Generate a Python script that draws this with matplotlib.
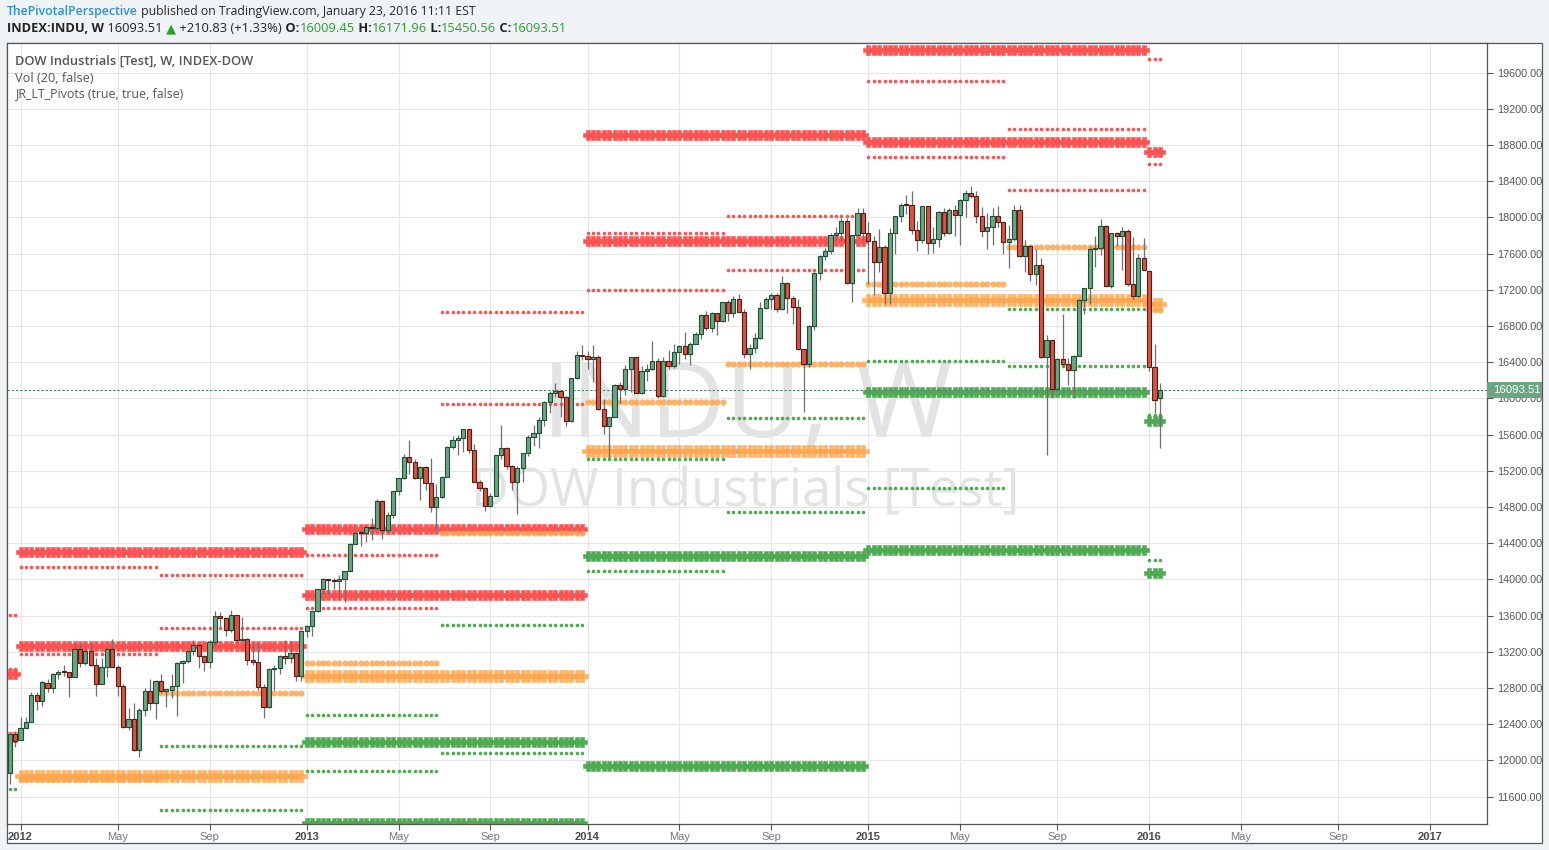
import matplotlib
matplotlib.use("Agg")
import matplotlib.pyplot as plt
from matplotlib.patches import Rectangle
import numpy as np
import pandas as pd

W, H, DPI = 1549, 850, 100
plt.rcParams['font.family'] = ['Liberation Sans', 'DejaVu Sans']

# ---------------- data (weekly bars, first bar = week of 2011-12-19) ----------------
first_week = "2011-12-19"

opens = [
    11866, 12291,
    12221, 12360, 12422, 12720, 12657, 12860, 12800, 12950, 12982, 12977, 12922, 13233, 13080,
    13212, 13059, 12850, 13029, 13228, 13035, 12820, 12370, 12455, 12118, 12553, 12767, 12640,
    12880, 12772, 12777, 12822, 13073, 13096, 13207, 13274, 13157, 13090, 13306, 13593, 13579,
    13437, 13610, 13328, 13343, 13107, 13093, 12815, 12589, 13009, 13026, 13155, 13135, 13190,
    12938, 13435, 13488, 13650, 13896, 14009, 13993, 13982, 14001, 14090, 14397, 14515, 14512,
    14579, 14565, 14865, 14547, 14712, 14974, 15118, 15354, 15303, 15116, 15248, 15070, 14800,
    14910, 15136, 15464, 15543, 15559, 15659, 15426, 15081, 15010, 14810, 14922, 15376, 15452,
    15258, 15073, 15237, 15400, 15570, 15615, 15762, 15962, 16065, 16086, 16020, 15755, 16221,
    16479, 16470, 16437, 16459, 15879, 15699, 15794, 16154, 16104, 16322, 16453, 16066, 16303,
    16324, 16413, 16027, 16409, 16361, 16513, 16583, 16492, 16606, 16717, 16924, 16776, 16948,
    16852, 17068, 16944, 17100, 16961, 16493, 16554, 16663, 17001, 17098, 17138, 16988, 17280,
    17113, 17010, 16544, 16380, 16805, 17391, 17574, 17635, 17810, 17828, 17959, 17281, 17804,
    18054, 17833, 17737, 17512, 17673, 17165, 17825, 18019, 18141, 18133, 17857, 17750, 18128,
    17713, 17763, 18058, 17827, 18080, 18025, 18191, 18272, 18232, 18011, 17849, 17899, 18016,
    17947, 17730, 17760, 18086, 17569, 17690, 17373, 17477, 16460, 16643, 16102, 16433, 16385,
    16315, 16472, 17084, 17216, 17647, 17664, 17910, 17245, 17824, 17798, 17848, 17265, 17128,
    17553,
    17405, 16347, 16009]

highs = [
    12317, 12329,
    12479, 12484, 12754, 12760, 12880, 12905, 12968, 13005, 13055, 12980, 13300, 13290, 13290,
    13297, 13130, 13130, 13250, 13338, 13050, 12840, 12580, 12640, 12580, 12800, 12900, 12890,
    12950, 12790, 12960, 13090, 13110, 13220, 13330, 13290, 13170, 13330, 13653, 13640, 13590,
    13661, 13610, 13590, 13350, 13290, 13290, 12840, 13020, 13060, 13170, 13330, 13315, 13200,
    13436, 13500, 13650, 13900, 14020, 14010, 14020, 14050, 14090, 14400, 14540, 14550, 14585,
    14680, 14890, 14880, 14750, 14980, 15120, 15390, 15542, 15330, 15250, 15250, 15340, 15050,
    15140, 15470, 15580, 15600, 15660, 15660, 15500, 15100, 15020, 14960, 15380, 15710, 15460,
    15260, 15250, 15400, 15600, 15710, 15800, 15970, 16080, 16175, 16090, 16030, 16230, 16530,
    16590, 16530, 16590, 16480, 15990, 15800, 16160, 16180, 16370, 16460, 16460, 16360, 16380,
    16630, 16450, 16460, 16540, 16600, 16590, 16740, 16620, 16740, 16930, 16970, 16960, 16950,
    17070, 17090, 17130, 17150, 16990, 16600, 16720, 17070, 17120, 17160, 17160, 17350, 17290,
    17130, 17100, 16550, 16810, 17400, 17580, 17660, 17830, 17900, 17990, 17990, 17810, 18103,
    18100, 17950, 17800, 17870, 17700, 17880, 18020, 18160, 18250, 18290, 17960, 18130, 18130,
    17900, 18070, 18100, 18100, 18140, 18200, 18300, 18351, 18290, 18120, 18050, 18110, 18130,
    17950, 17920, 18140, 18140, 17750, 17700, 17650, 17550, 16700, 16650, 16450, 16930, 16450,
    16480, 17100, 17220, 17680, 17800, 17980, 17920, 17830, 17840, 17900, 17870, 17780, 17600,
    17770,
    17405, 16600, 16172]

lows = [
    11735, 12152,
    12221, 12359, 12422, 12560, 12600, 12760, 12743, 12900, 12930, 12706, 12922, 13030, 13060,
    13040, 12710, 12850, 12920, 13030, 12710, 12360, 12340, 12100, 12035, 12490, 12560, 12460,
    12750, 12590, 12690, 12490, 12860, 13080, 13160, 13020, 12990, 13020, 13260, 13480, 13370,
    13420, 13290, 13320, 13060, 13050, 12780, 12471, 12580, 12780, 12960, 13070, 13080, 12880,
    12880, 13360, 13380, 13640, 13840, 13840, 13900, 13780, 13750, 14090, 14390, 14370, 14410,
    14440, 14560, 14450, 14530, 14680, 14930, 15110, 15160, 15110, 14880, 14990, 14750, 14550,
    14900, 15130, 15440, 15370, 15410, 15400, 15080, 14980, 14760, 14800, 14920, 15330, 15220,
    14990, 14719, 15080, 15360, 15480, 15450, 15700, 15840, 16020, 15800, 15700, 15740, 16220,
    16430, 16330, 16180, 15870, 15610, 15340, 15790, 15950, 16040, 16070, 16060, 16050, 16190,
    16320, 16000, 16020, 16330, 16340, 16380, 16440, 16370, 16600, 16660, 16760, 16730, 16700,
    16850, 16860, 16900, 16960, 16450, 16330, 16500, 16660, 16990, 16990, 16960, 16980, 16940,
    16820, 16540, 15855, 16350, 16760, 17310, 17530, 17600, 17760, 17740, 17270, 17070, 17800,
    17740, 17260, 17140, 17400, 17040, 17040, 17600, 17950, 18040, 17820, 17630, 17720, 17600,
    17610, 17670, 17800, 17820, 17790, 17700, 18010, 18210, 17940, 17780, 17650, 17700, 17890,
    17600, 17440, 17740, 17560, 17400, 17300, 17250, 16450, 15370, 16000, 16080, 16350, 16150,
    16000, 16470, 16930, 17040, 17450, 17580, 17240, 17220, 17680, 17420, 17240, 17100, 17120,
    17420,
    16300, 15840, 15451]

closes = [
    12294, 12217,
    12360, 12422, 12720, 12660, 12862, 12801, 12950, 12983, 12978, 12922, 13233, 13081, 13212,
    13060, 12850, 13029, 13228, 13038, 12821, 12369, 12455, 12119, 12554, 12767, 12640, 12880,
    12772, 12777, 12822, 13075, 13096, 13207, 13275, 13157, 13090, 13306, 13593, 13579, 13437,
    13610, 13328, 13343, 13107, 13093, 12815, 12588, 13010, 13026, 13155, 13135, 13190, 12938,
    13435, 13488, 13650, 13896, 14009, 13993, 13982, 14001, 14090, 14397, 14515, 14512, 14579,
    14565, 14865, 14547, 14712, 14974, 15118, 15354, 15303, 15116, 15248, 15070, 14800, 14910,
    15136, 15464, 15543, 15559, 15659, 15426, 15081, 15010, 14810, 14922, 15376, 15452, 15258,
    15073, 15237, 15400, 15570, 15615, 15762, 15962, 16065, 16086, 16020, 15755, 16221, 16479,
    16470, 16437, 16459, 15879, 15699, 15794, 16154, 16104, 16322, 16453, 16066, 16303, 16324,
    16413, 16027, 16409, 16361, 16513, 16583, 16492, 16606, 16717, 16924, 16776, 16948, 16852,
    17068, 16944, 17100, 16961, 16493, 16554, 16663, 17001, 17098, 17138, 16988, 17280, 17113,
    17010, 16544, 16380, 16805, 17391, 17574, 17635, 17810, 17828, 17959, 17281, 17804, 18054,
    17833, 17737, 17512, 17673, 17165, 17825, 18019, 18141, 18133, 17857, 17750, 18128, 17713,
    17763, 18058, 17827, 18080, 18025, 18191, 18272, 18232, 18011, 17849, 17899, 18016, 17947,
    17730, 17760, 18086, 17569, 17690, 17373, 17477, 16460, 16643, 16102, 16433, 16385, 16315,
    16472, 17084, 17216, 17647, 17664, 17910, 17245, 17824, 17798, 17848, 17265, 17128, 17553,
    17425,
    16347, 15988, 16094]

last_price = 16093.51

# yearly pivots (crosses): year, R2, R1, P, S1, S2 (None = off chart)
pivot_years = [2011, 2012, 2013, 2014, 2015, 2016]
yearly_r2 = [12950, 14304, 14559, 18907, 19852, None]
yearly_r1 = [12264, 13260, 13831, 17742, 18838, 18728]
yearly_p = [None, 11832, 12933, 15423, 17089, 17049]
yearly_s1 = [None, None, 12205, 14258, 16075, 15747]
yearly_s2 = [None, None, 11307, 11939, 14326, 14068]

# half-year pivots (dots)
pivot_halves = ["2011H2", "2012H1", "2012H2", "2013H1", "2013H2",
                "2014H1", "2014H2", "2015H1", "2015H2", "2016H1"]
half_r2 = [13603, 14140, 14054, 14269, 16957, 17830, 18019, 19508, 18983, 19746]
half_r1 = [13009, 13178, 13467, 13687, 15934, 17203, 17422, 18665, 18301, 18586]
half_p = [12282, 11791, 12751, 13079, 14519, 15961, 16381, 17260, 17669, 16978]
half_s1 = [11688, None, 12164, 12497, 13496, 15334, 15784, 16417, 16987, 15818]
half_s2 = [None, None, 11448, 11889, 12081, 14092, 14743, 15012, 16355, 14210]

price_ticks = [11600, 12000, 12400, 12800, 13200, 13600, 14000, 14400, 14800, 15200,
               15600, 16000, 16400, 16800, 17200, 17600, 18000, 18400, 18800, 19200, 19600]
date_tick_dates = ["2012-01-02", "2012-05-07", "2012-09-03", "2013-01-07", "2013-05-06",
                   "2013-09-02", "2014-01-06", "2014-05-05", "2014-09-01", "2015-01-05",
                   "2015-05-04", "2015-09-07", "2016-01-04", "2016-05-02", "2016-09-05",
                   "2017-01-02"]
date_tick_labels = ["2012", "May", "Sep", "2013", "May", "Sep", "2014", "May", "Sep",
                    "2015", "May", "Sep", "2016", "May", "Sep", "2017"]

# ---------------- figure ----------------
n = len(closes)
assert len(opens) == n and len(highs) == n and len(lows) == n, (len(opens), len(highs), len(lows), n)
o = np.array(opens, float); h = np.array(highs, float)
l = np.array(lows, float); c = np.array(closes, float)
idx = np.arange(n)
dates = pd.date_range(first_week, periods=n, freq="7D")
bar_year = np.array(dates.year)
bar_half = np.array([f"{d.year}H{1 if d.month <= 6 else 2}" for d in dates])

fig = plt.figure(figsize=(W / DPI, H / DPI), dpi=DPI)
fig.patch.set_facecolor('#f0f3f6')
fig.add_artist(Rectangle((7 / W, 1 - 843 / H), (1542 - 7) / W, (843 - 43) / H,
                         transform=fig.transFigure, facecolor='white',
                         edgecolor='#555555', lw=0.9, zorder=-1))
ax = fig.add_axes([7 / W, 1 - 824 / H, (1487 - 7) / W, (824 - 43) / H])
ax.set_facecolor('white')
ax.set_xlim(-0.5, 273.57)
ax.set_ylim(11298, 19928)
for sp in ax.spines.values():
    sp.set_color('#555555'); sp.set_linewidth(0.9)

ax.set_axisbelow(True)
ax.grid(True, color='#e6e6e6', lw=0.8)

# watermark
wm1 = ax.text(0.5, 0.5, "INDU, W", family='Open Sans', color='#e3e3e3', fontsize=70,
              ha='center', va='baseline', zorder=0.2)
wm2 = ax.text(0.5, 0.5, "DOW Industrials [Test]", family='Open Sans', color='#e3e3e3',
              fontsize=35, ha='center', va='baseline', zorder=0.2)

RED, GREEN, ORANGE = '#ff5252', '#4fab52', '#ffa64d'

# yearly pivots
for k, yr in enumerate(pivot_years):
    xs = idx[bar_year == yr]
    for vals, col, ms, a in ((yearly_r2, RED, 6.6, 1.0), (yearly_r1, RED, 6.6, 1.0),
                             (yearly_p, ORANGE, 8.0, 0.85),
                             (yearly_s1, GREEN, 6.6, 1.0), (yearly_s2, GREEN, 6.6, 1.0)):
        v = vals[k]
        if v is None or len(xs) == 0:
            continue
        ax.plot(xs, np.full(len(xs), v), ls='none', marker='P', ms=ms, color=col,
                mec=col, mew=0.4, alpha=a, zorder=2)

# half-year pivots
for k, hf in enumerate(pivot_halves):
    xs = idx[bar_half == hf]
    for vals, col, ms, a in ((half_r2, RED, 2.6, 1.0), (half_r1, RED, 2.6, 1.0),
                             (half_p, ORANGE, 4.4, 0.85),
                             (half_s1, GREEN, 2.6, 1.0), (half_s2, GREEN, 2.6, 1.0)):
        v = vals[k]
        if v is None or len(xs) == 0:
            continue
        ax.plot(xs, np.full(len(xs), v), ls='none', marker='o', ms=ms, color=col,
                mec='none', alpha=a, zorder=2.1)

# last price line
ax.axhline(last_price, color='#4f8a6c', lw=0.8, ls=(0, (2.2, 1.6)), zorder=2.5)

# candles
up = c >= o
ax.vlines(idx, np.minimum(l, np.minimum(o, c)), np.maximum(h, np.maximum(o, c)),
          color='#6f6f6f', lw=0.9, zorder=3)
bot = np.minimum(o, c)
hgt = np.maximum(np.abs(c - o), 14)
ax.bar(idx[up], hgt[up], bottom=bot[up], width=0.8, color='#6ba583',
       edgecolor='#1f4f33', lw=0.8, zorder=4)
ax.bar(idx[~up], hgt[~up], bottom=bot[~up], width=0.8, color='#d75442',
       edgecolor='#5b1a13', lw=0.8, zorder=4)

# axes ticks
ax.yaxis.tick_right()
ax.set_yticks(price_ticks)
ax.set_yticklabels([f"{v:.2f}" for v in price_ticks])
ax.tick_params(axis='y', length=4, width=0.8, color='#555555', labelcolor='#555555',
               labelsize=7.8, pad=3)
t0 = pd.Timestamp(first_week)
xt = [(pd.Timestamp(d) - t0).days / 7.0 for d in date_tick_dates]
ax.set_xticks(xt)
ax.set_xticklabels(date_tick_labels)
ax.tick_params(axis='x', length=4, width=0.8, color='#555555', labelsize=8, pad=1.5)
for lab in ax.get_xticklabels():
    if lab.get_text().isdigit():
        lab.set_fontweight('bold'); lab.set_color('#4a4a4a')
    else:
        lab.set_color('#777777')

fig.canvas.draw()
R = fig.canvas.get_renderer()


def fit_runs(runs, x0, x1, yc, base=9.0):
    ts = []
    for s, col, wt, fam in runs:
        t = fig.text(0, 1 - yc / H, s, color=col, fontweight=wt, fontsize=base,
                     family=fam, va='center', ha='left')
        ts.append(t)
    tot = sum(t.get_window_extent(R).width for t in ts)
    k = (x1 - x0) / tot
    for t in ts:
        t.set_fontsize(base * k)
    x = x0
    for t in ts:
        w = t.get_window_extent(R).width
        t.set_x(x / W)
        x += w
    return ts


OS = ['Open Sans', 'DejaVu Sans']
fit_runs([("ThePivotalPerspective", '#2f8fd0', 'semibold', OS),
          (" published on TradingView.com, January 23, 2016 11:11 EST", '#262626', 'normal', OS)],
         7, 480, 12)
GRN = '#2aa02a'
fit_runs([("INDEX:INDU, W", '#222222', 'bold', OS),
          (" 16093.51", '#222222', 'normal', OS),
          (" \u25B2", GRN, 'normal', ['DejaVu Sans']),
          (" +210.83 (+1.33%)", '#222222', 'normal', OS),
          (" O:", '#222222', 'bold', OS), ("16009.45", GRN, 'normal', OS),
          (" H:", '#222222', 'bold', OS), ("16171.96", GRN, 'normal', OS),
          (" L:", '#222222', 'bold', OS), ("15450.56", GRN, 'normal', OS),
          (" C:", '#222222', 'bold', OS), ("16093.51", GRN, 'normal', OS)],
         7, 564, 29)
fit_runs([("DOW Industrials [Test], W, INDEX-DOW", '#555555', 'semibold', OS)], 15, 253, 61)
fit_runs([("Vol (20, false)", '#555555', 'normal', OS)], 15, 94, 78)
fit_runs([("JR_LT_Pivots (true, true, false)", '#555555', 'normal', OS)], 15, 184, 94)


# watermark fitting
def fit_wm(t, x_c, base_y, width):
    w = t.get_window_extent(R).width
    t.set_fontsize(t.get_fontsize() * width / w)
    t.set_position(((x_c - 7) / (1487 - 7), (824 - base_y) / (824 - 43)))
    t.set_transform(ax.transAxes)


fit_wm(wm1, 747, 437, 410)
fit_wm(wm2, 745, 506, 549)

# last price label box
yd = ax.transData.transform((0, last_price))[1]
ypx = H - yd
fig.add_artist(Rectangle((1487 / W, 1 - (ypx + 8) / H), 55 / W, 16 / H,
                         transform=fig.transFigure, facecolor='#6ba583',
                         edgecolor='none', zorder=5))
fig.text(1493 / W, 1 - ypx / H, f"{last_price:.2f}", color='white', fontsize=8.2,
         va='center', ha='left', zorder=6)

fig.savefig("out.png", dpi=DPI, facecolor=fig.get_facecolor())
